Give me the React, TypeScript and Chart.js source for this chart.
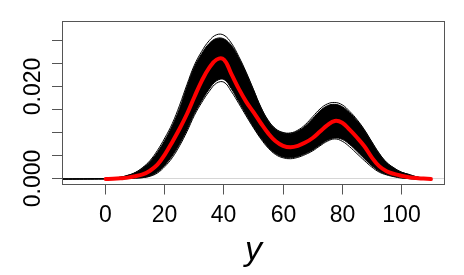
import React, { useEffect, useRef } from "react";
import { Chart, registerables } from "chart.js";

Chart.register(...registerables);

// ---- data ----
const xGrid = [
  -15, -12.5, -10, -7.5, -5, -2.5, 0, 2.5, 5, 7.5, 10, 12.5, 15, 17.5, 20, 22.5, 25, 27.5, 30, 32.5,
  35, 37.5, 40, 42.5, 45, 47.5, 50, 52.5, 55, 57.5, 60, 62.5, 65, 67.5, 70, 72.5, 75, 77.5, 80, 82.5,
  85, 87.5, 90, 92.5, 95, 97.5, 100, 102.5, 105, 107.5, 110,
];

// mean posterior predictive density (red)
const meanDensity = [
  null, null, null, null, null, null, 0.0, 0.00005, 0.00015, 0.0003, 0.0006, 0.001, 0.0018, 0.0031, 0.0053, 0.008, 0.0109, 0.0141, 0.0178, 0.0213,
  0.0241, 0.0259, 0.0259, 0.0228, 0.0196, 0.0168, 0.0145, 0.0121, 0.0099, 0.0082, 0.0072, 0.0069, 0.0072, 0.0079, 0.0089, 0.0103, 0.0117, 0.0126, 0.0122, 0.0107,
  0.009, 0.0071, 0.0047, 0.0028, 0.0017, 0.0011, 0.0007, 0.0004, 0.0002, 0.0001, 0.0,
];

// upper edge of the bundle of replicate densities
const upperDensity = [
  0.0, 0.0, 0.00002, 0.00003, 0.00005, 0.00008, 0.00012, 0.0002, 0.0004, 0.0008, 0.0014, 0.0024, 0.0038, 0.0058, 0.0084, 0.0115, 0.0153, 0.02, 0.0243, 0.0272,
  0.0294, 0.0305, 0.0304, 0.029, 0.0263, 0.023, 0.0193, 0.0155, 0.0126, 0.0108, 0.01, 0.0099, 0.0104, 0.0115, 0.0131, 0.0148, 0.0159, 0.0162, 0.0157, 0.0144,
  0.0127, 0.0106, 0.008, 0.0055, 0.0036, 0.0024, 0.0015, 0.001, 0.0005, 0.0002, 0.0001,
];

// lower edge of the bundle of replicate densities
const lowerDensity = [
  0.0, 0.0, 0.0, 0.0, 0.0, 0.0, 0.0, 0.00002, 0.00004, 0.0001, 0.0002, 0.0003, 0.0007, 0.0015, 0.003, 0.005, 0.0076, 0.0107, 0.0142, 0.017,
  0.0195, 0.0213, 0.0216, 0.0196, 0.0168, 0.014, 0.0113, 0.0089, 0.0069, 0.0055, 0.0048, 0.0046, 0.0049, 0.0055, 0.0063, 0.0074, 0.0084, 0.0089, 0.0086, 0.0075,
  0.006, 0.0044, 0.0029, 0.0017, 0.001, 0.0006, 0.0003, 0.0001, 0.0, 0.0, 0.0,
];

// a few stray replicate curves just outside the bundle
const highCurve = [
  0.0, 0.0, 0.00002, 0.00003, 0.00005, 0.00008, 0.00012, 0.0002, 0.0004, 0.0008, 0.0014, 0.0025, 0.004, 0.0062, 0.0089, 0.012, 0.016, 0.0205, 0.0247, 0.0277,
  0.03, 0.0313, 0.0312, 0.0295, 0.0266, 0.0232, 0.0194, 0.0156, 0.0127, 0.0109, 0.0101, 0.01, 0.0106, 0.0118, 0.0135, 0.0152, 0.0163, 0.0166, 0.0161, 0.0147,
  0.0129, 0.0107, 0.0081, 0.0056, 0.0036, 0.0024, 0.0015, 0.001, 0.0005, 0.0002, 0.0001,
];

const lowCurve = [
  0.0, 0.0, 0.0, 0.0, 0.0, 0.0, 0.0, 0.00002, 0.00004, 0.0001, 0.0002, 0.0003, 0.0006, 0.0013, 0.0027, 0.0046, 0.0072, 0.0103, 0.0138, 0.0166,
  0.019, 0.0208, 0.021, 0.019, 0.0164, 0.0137, 0.0111, 0.0087, 0.0067, 0.0053, 0.0046, 0.0044, 0.0047, 0.0053, 0.0061, 0.0072, 0.0082, 0.0087, 0.0082, 0.007,
  0.0055, 0.004, 0.0026, 0.0015, 0.0009, 0.0005, 0.0002, 0.0001, 0.0, 0.0, 0.0,
];

const xTicks = [0, 20, 40, 60, 80, 100];
const xTickLabels = ["0", "20", "40", "60", "80", "100"];
const yTicks = [0, 0.005, 0.01, 0.015, 0.02, 0.025, 0.03];
const yTickLabels = ["0.000", "", "", "", "0.020", "", ""];
const xTitle = "y";
const xRange = [-14.6, 114.6];
const yRange = [-0.00119, 0.03428];

const FONT = '"Liberation Sans", Arial, Helvetica, sans-serif';
const AXIS_COLOR = "#555555";

const rAxesPlugin = {
  id: "rAxes",
  beforeDatasetsDraw(chart: any) {
    const { ctx, chartArea: a, scales } = chart;
    const py = Math.round(scales.y.getPixelForValue(0)) - 0.5;
    ctx.save();
    ctx.strokeStyle = "#d6d6d6";
    ctx.lineWidth = 1;
    ctx.beginPath();
    ctx.moveTo(a.left, py);
    ctx.lineTo(a.right, py);
    ctx.stroke();
    ctx.restore();
  },
  afterDraw(chart: any) {
    const { ctx, chartArea: a, scales } = chart;
    const L = Math.floor(a.left) + 0.5;
    const R = Math.floor(a.right) + 0.5;
    const T = Math.floor(a.top) + 0.5;
    const B = Math.floor(a.bottom) + 0.5;
    ctx.save();
    ctx.strokeStyle = AXIS_COLOR;
    ctx.lineWidth = 1;
    ctx.strokeRect(L, T, R - L, B - T);

    // x axis ticks + labels
    ctx.fillStyle = "#000";
    ctx.font = `23px ${FONT}`;
    ctx.textAlign = "center";
    ctx.textBaseline = "alphabetic";
    xTicks.forEach((v, i) => {
      const px = Math.floor(scales.x.getPixelForValue(v)) + 0.5;
      ctx.beginPath();
      ctx.moveTo(px, B);
      ctx.lineTo(px, B + 10);
      ctx.stroke();
      ctx.fillText(xTickLabels[i], px, B + 37.5);
    });

    // y axis ticks + rotated labels
    yTicks.forEach((v, i) => {
      const py = Math.round(scales.y.getPixelForValue(v)) - 0.5;
      ctx.beginPath();
      ctx.moveTo(L - 10.5, py);
      ctx.lineTo(L, py);
      ctx.stroke();
      if (yTickLabels[i]) {
        ctx.save();
        ctx.translate(L - 22.5, py);
        ctx.rotate(-Math.PI / 2);
        ctx.fillText(yTickLabels[i], 0, 0);
        ctx.restore();
      }
    });

    // axis title
    ctx.font = `italic 34px ${FONT}`;
    ctx.fillText(xTitle, (a.left + a.right) / 2, B + 75);
    ctx.restore();
  },
};

const pts = (vals: (number | null)[]) => xGrid.map((x, i) => ({ x, y: vals[i] }));

export default function App() {
  const ref = useRef<HTMLCanvasElement | null>(null);

  useEffect(() => {
    if (!ref.current) return;
    const common = {
      pointRadius: 0,
      pointHoverRadius: 0,
      tension: 0.4,
      borderColor: "#000000",
      borderWidth: 1,
    };
    const chart = new Chart(ref.current, {
      type: "line",
      data: {
        datasets: [
          { ...common, data: pts(upperDensity), backgroundColor: "#000000", fill: "+1", order: 4 },
          { ...common, data: pts(lowerDensity), fill: false, order: 3 },
          { ...common, data: pts(highCurve), fill: false, order: 2 },
          { ...common, data: pts(lowCurve), fill: false, order: 1 },
          {
            ...common,
            data: pts(meanDensity),
            borderColor: "#ff0000",
            borderWidth: 4,
            borderCapStyle: "round",
            borderJoinStyle: "round",
            fill: false,
            spanGaps: false,
            order: 0,
          },
        ],
      } as any,
      options: {
        responsive: false,
        animation: false,
        events: [],
        layout: { padding: { left: 62.5, right: 19.5, top: 21, bottom: 90.5 } },
        plugins: { legend: { display: false }, tooltip: { enabled: false } },
        scales: {
          x: { type: "linear", display: false, min: xRange[0], max: xRange[1] },
          y: { type: "linear", display: false, min: yRange[0], max: yRange[1] },
        },
      },
      plugins: [rAxesPlugin],
    });
    return () => chart.destroy();
  }, []);

  return (
    <div style={{ position: "fixed", left: 0, top: 0, width: 464, height: 275, background: "#fff" }}>
      <canvas ref={ref} width={464} height={275} style={{ width: 464, height: 275, display: "block" }} />
    </div>
  );
}
